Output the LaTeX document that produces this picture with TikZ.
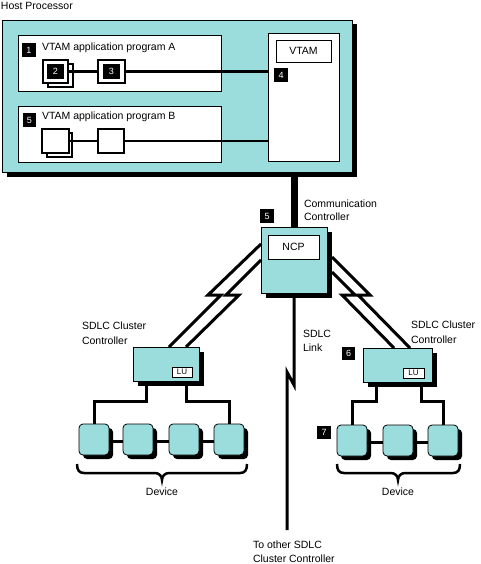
\documentclass[tikz,border=0pt]{standalone}
\usepackage{fontspec}
\setmainfont{Liberation Sans}
\usetikzlibrary{shadows}
\definecolor{cy}{RGB}{155,220,220}
\begin{document}
\begin{tikzpicture}[x=1pt,y=-1pt,
 every node/.style={inner sep=0pt, outer sep=0pt},
 txt/.style={anchor=base west, font=\fontsize{10.5}{14}\selectfont},
 ctxt/.style={anchor=base, font=\fontsize{10.5}{14}\selectfont},
 whitebox/.style={draw=black, line width=0.8pt, fill=white, anchor=north west},
 shadebox/.style={draw=black, line width=0.8pt, fill=cy, anchor=north west, general shadow={fill=black, shadow xshift=4.5pt, shadow yshift=-4.5pt}},
 dev/.style={draw=black, line width=0.8pt, fill=cy, anchor=north west, rounded corners=4pt, minimum width=30pt, minimum height=31pt, general shadow={fill=black, shadow xshift=4pt, shadow yshift=-4pt}},
 badge/.style={fill=black, text=white, anchor=north west, minimum width=14pt, minimum height=14pt, font=\fontsize{9}{9}\selectfont},
 inbadge/.style={fill=black, text=white, minimum width=17pt, minimum height=15pt, font=\fontsize{9}{9}\selectfont},
 prog/.style={draw=black, line width=2.5pt, fill=white, anchor=north west},
 progback/.style={draw=black, line width=1.3pt, fill=white, anchor=north west},
 wire/.style={line width=2.5pt},
 link/.style={line width=3pt},
 thick link/.style={line width=7pt},
 leg/.style={line width=3pt},
 bracestyle/.style={line width=2.5pt},
 lubox/.style={draw=black, line width=0.8pt, fill=white, minimum width=20pt, minimum height=10pt, anchor=north west, font=\fontsize{8}{8}\selectfont}
]
\fill[white] (0,0) rectangle (480,564);
\useasboundingbox (0,0) rectangle (480,564);

% Host processor
\node[txt] (hostlbl) at (1,10) {Host Processor};
\node[shadebox, minimum width=350pt, minimum height=152pt] (host) at (2,20) {};
\node[whitebox, minimum width=203pt, minimum height=56pt] (appA) at (18,35) {};
\node[whitebox, minimum width=203pt, minimum height=56pt] (appB) at (18,106) {};
\node[whitebox, minimum width=71pt, minimum height=128pt] (vtam) at (268,33) {};
\node[whitebox, minimum width=55pt, minimum height=22pt, font=\fontsize{10.5}{12}\selectfont] (vtamlbl) at (276,40) {VTAM};

\node[badge] (b1) at (22,43) {1};
\node[txt] (appAlbl) at (42,51) {VTAM application program A};
\node[badge, minimum width=13pt] (b5a) at (23,113) {5};
\node[txt] (appBlbl) at (42,120) {VTAM application program B};
\node[badge] (b4) at (274,68) {4};

% program A squares
\node[progback, minimum width=25pt, minimum height=23pt] (a2back) at (48,64) {};
\node[prog, minimum width=25pt, minimum height=23pt] (a2) at (43,60) {};
\node[inbadge] (a2n) at (a2.center) {2};
\node[prog, minimum width=27pt, minimum height=23pt] (a3) at (98,60) {};
\node[inbadge] (a3n) at (a3.center) {3};
\draw[wire] (a2.east) -- (a3.west);
\draw[wire] (a3.east) -- (a3.east -| vtam.west);

% program B squares
\node[progback, minimum width=25pt, minimum height=24pt] (b2back) at (47,133) {};
\node[prog, minimum width=27pt, minimum height=24pt] (b2) at (42,129) {};
\node[prog, minimum width=26pt, minimum height=24pt] (b3) at (98,129) {};
\draw[wire] (b2.east) -- (b3.west);
\draw[wire] (b3.east) -- (b3.east -| vtam.west);

% Communication controller
\node[txt] (cc1) at (304,207) {Communication};
\node[txt] (cc2) at (304,220) {Controller};
\node[badge] (b5) at (260,209) {5};
\node[shadebox, minimum width=66pt, minimum height=66pt] (ncp) at (261,227) {};
\node[whitebox, minimum width=51pt, minimum height=24pt, font=\fontsize{10.5}{12}\selectfont] (ncplbl) at (268,235) {NCP};
\draw[thick link] (ncp.north |- host.south) -- (ncp.north);

% SDLC link
\coordinate (linkend) at (287,530);
\draw[link] (ncp.south) -- ++(0,92) -- ++(-7,-13) -- (linkend);
\node[txt] (sl1) at (303,337) {SDLC};
\node[txt] (sl2) at (303,351) {Link};
\node[txt] (to1) at (253,548) {To other SDLC};
\node[txt] (to2) at (253,562) {Cluster Controller};

% Left cluster controller
\node[txt] (lcl1) at (82,329) {SDLC Cluster};
\node[txt] (lcl2) at (82,344) {Controller};
\node[shadebox, minimum width=66pt, minimum height=34pt] (lc) at (133,347) {};
\node[lubox] (lclu) at (172,367) {LU};

% Right cluster controller
\node[txt] (rcl1) at (411,328) {SDLC Cluster};
\node[txt] (rcl2) at (411,343) {Controller};
\node[badge, minimum width=13pt, minimum height=13pt] (b6) at (342,347) {6};
\node[shadebox, minimum width=69pt, minimum height=34pt] (rc) at (363,348) {};
\node[lubox, minimum width=21pt] (rclu) at (403,368) {LU};

% Lightning links
\draw[link] ([yshift=16pt]ncp.west) -- ++(-53,51) -- ++(13,0) -- ([xshift=3pt]lc.north);
\draw[link] (ncp.west) -- ++(-35,35) -- ++(13,0) -- ([xshift=20pt]lc.north);
\draw[link] ([xshift=5pt,yshift=3pt]ncp.east) -- ++(38,38) -- ++(-12,0) -- ([xshift=12.5pt]rc.north);
\draw[link] ([xshift=5pt,yshift=-12pt]ncp.east) -- ++(23,23) -- ++(-13,0) -- ([xshift=-3.5pt]rc.north);

% Left devices
\node[dev] (d1) at (79,424) {};
\node[dev] (d2) at (123,424) {};
\node[dev] (d3) at (169,424) {};
\node[dev] (d4) at (214,424) {};
\draw[leg] ([yshift=-2pt]d1.east) -- ([yshift=-2pt]d2.west);
\draw[leg] ([yshift=-2pt]d2.east) -- ([yshift=-2pt]d3.west);
\draw[leg] ([yshift=-2pt]d3.east) -- ([yshift=-2pt]d4.west);
\draw[leg] ([xshift=-20pt]lc.south) -- ++(0,20) -| (d1.north);
\draw[leg] ([xshift=20pt]lc.south) -- ++(0,20) -| (d4.north);

% Right devices
\node[badge, minimum height=13pt] (b7) at (317,426) {7};
\node[dev] (d5) at (337,425) {};
\node[dev] (d6) at (383,425) {};
\node[dev] (d7) at (428,425) {};
\draw[leg] ([yshift=-2pt]d5.east) -- ([yshift=-2pt]d6.west);
\draw[leg] ([yshift=-2pt]d6.east) -- ([yshift=-2pt]d7.west);
\draw[leg] ([xshift=-21.5pt]rc.south) -- ++(0,19) -| (d5.north);
\draw[leg] ([xshift=23.5pt]rc.south) -- ++(0,19) -| (d7.north);

% Braces
\draw[bracestyle] (77,464) .. controls (77,470) and (79,473) .. (84,473) -- (155,473) .. controls (159,473) and (162,476) .. (162,480) .. controls (162,476) and (165,473) .. (169,473) -- (240,473) .. controls (245,473) and (247,470) .. (247,464);
\node[ctxt] (dev1) at (162,495) {Device};
\draw[bracestyle] (337,464) .. controls (337,470) and (339,473) .. (344,473) -- (391,473) .. controls (395,473) and (398,476) .. (398,480) .. controls (398,476) and (401,473) .. (405,473) -- (453,473) .. controls (458,473) and (460,470) .. (460,464);
\node[ctxt] (dev2) at (398,495) {Device};
\end{tikzpicture}
\end{document}
